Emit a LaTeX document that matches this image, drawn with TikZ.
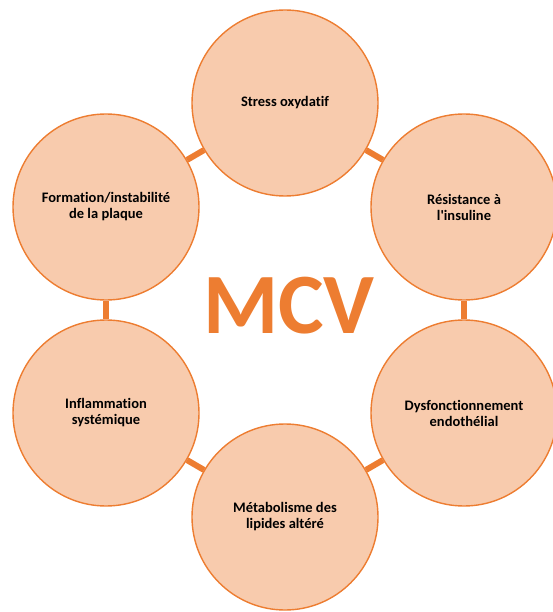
\documentclass[tikz,border=0pt]{standalone}
\usepackage{fontspec}
\newfontfamily\carl[Ligatures=NoCommon]{Carlito}
\definecolor{orangeline}{HTML}{ED7D31}
\definecolor{peach}{HTML}{F8CBAD}
\begin{document}
\begin{tikzpicture}[x=1pt,y=-1pt,
  bubble/.style={circle, draw=orangeline, line width=1.4pt, fill=peach, minimum size=186pt, inner sep=0pt,
    align=center, font=\carl\bfseries\fontsize{14.5}{16}\selectfont, text=black},
  link/.style={draw=orangeline, line width=6pt}]
\useasboundingbox (0,0) rectangle (553,612);
\node[bubble] (c1) at (285,103) {Stress oxydatif};
\node[bubble] (c2) at (464,207) {Résistance à\\l'insuline};
\node[bubble] (c3) at (464,413) {Dysfonctionnement\\endothélial};
\node[bubble] (c4) at (285,517) {Métabolisme des\\lipides altéré};
\node[bubble] (c5) at (106,413) {Inflammation\\systémique};
\node[bubble] (c6) at (106,207) {Formation/instabilité\\de la plaque};
\draw[link] (c1) -- (c2);
\draw[link] (c2) -- (c3);
\draw[link] (c3) -- (c4);
\draw[link] (c4) -- (c5);
\draw[link] (c5) -- (c6);
\draw[link] (c6) -- (c1);
\node[anchor=base, text=orangeline, font=\carl\bfseries\fontsize{86}{90}\selectfont, inner sep=0pt] (mcv) at (289,333) {MCV};
\end{tikzpicture}
\end{document}
